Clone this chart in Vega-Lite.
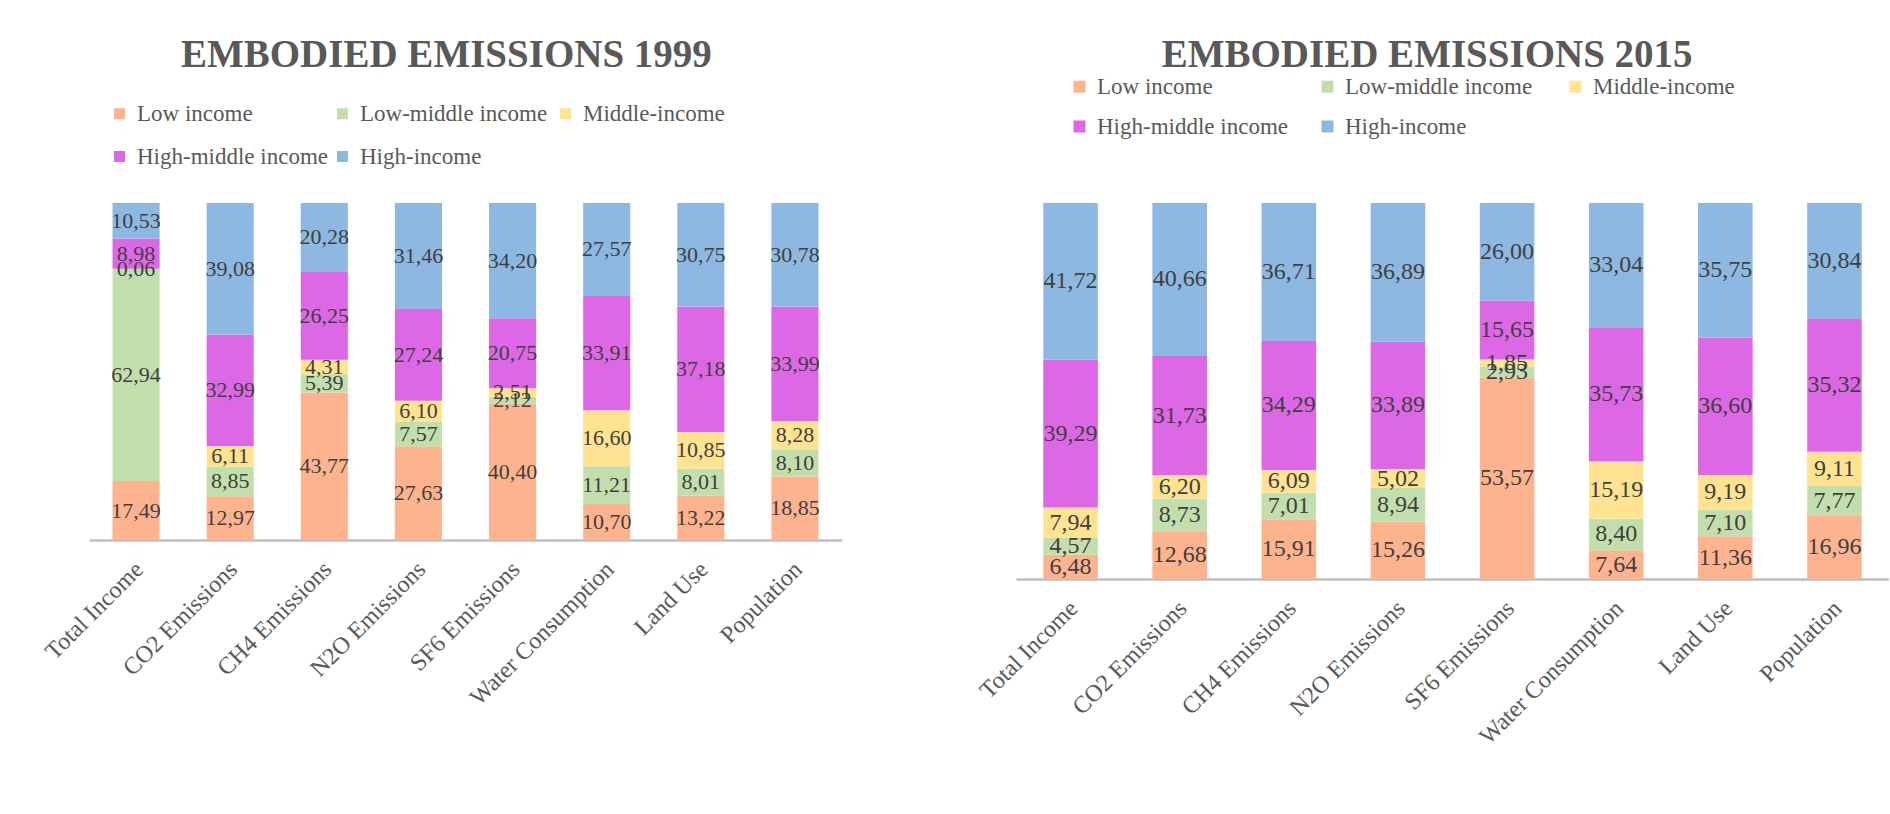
{
  "$schema": "https://vega.github.io/schema/vega-lite/v6.json",
  "padding": {"left": 40, "top": 36, "right": 0, "bottom": 0},
  "background": "white",
  "datasets": {
    "y1999": [
      {"category": "Total Income", "group": "Low income", "tier": 1, "share": 17.49},
      {"category": "Total Income", "group": "Low-middle income", "tier": 2, "share": 62.94},
      {"category": "Total Income", "group": "Middle-income", "tier": 3, "share": 0.06},
      {"category": "Total Income", "group": "High-middle income", "tier": 4, "share": 8.98},
      {"category": "Total Income", "group": "High-income", "tier": 5, "share": 10.53},
      {"category": "CO2 Emissions", "group": "Low income", "tier": 1, "share": 12.97},
      {"category": "CO2 Emissions", "group": "Low-middle income", "tier": 2, "share": 8.85},
      {"category": "CO2 Emissions", "group": "Middle-income", "tier": 3, "share": 6.11},
      {"category": "CO2 Emissions", "group": "High-middle income", "tier": 4, "share": 32.99},
      {"category": "CO2 Emissions", "group": "High-income", "tier": 5, "share": 39.08},
      {"category": "CH4 Emissions", "group": "Low income", "tier": 1, "share": 43.77},
      {"category": "CH4 Emissions", "group": "Low-middle income", "tier": 2, "share": 5.39},
      {"category": "CH4 Emissions", "group": "Middle-income", "tier": 3, "share": 4.31},
      {"category": "CH4 Emissions", "group": "High-middle income", "tier": 4, "share": 26.25},
      {"category": "CH4 Emissions", "group": "High-income", "tier": 5, "share": 20.28},
      {"category": "N2O Emissions", "group": "Low income", "tier": 1, "share": 27.63},
      {"category": "N2O Emissions", "group": "Low-middle income", "tier": 2, "share": 7.57},
      {"category": "N2O Emissions", "group": "Middle-income", "tier": 3, "share": 6.10},
      {"category": "N2O Emissions", "group": "High-middle income", "tier": 4, "share": 27.24},
      {"category": "N2O Emissions", "group": "High-income", "tier": 5, "share": 31.46},
      {"category": "SF6 Emissions", "group": "Low income", "tier": 1, "share": 40.40},
      {"category": "SF6 Emissions", "group": "Low-middle income", "tier": 2, "share": 2.12},
      {"category": "SF6 Emissions", "group": "Middle-income", "tier": 3, "share": 2.51},
      {"category": "SF6 Emissions", "group": "High-middle income", "tier": 4, "share": 20.75},
      {"category": "SF6 Emissions", "group": "High-income", "tier": 5, "share": 34.20},
      {"category": "Water Consumption", "group": "Low income", "tier": 1, "share": 10.70},
      {"category": "Water Consumption", "group": "Low-middle income", "tier": 2, "share": 11.21},
      {"category": "Water Consumption", "group": "Middle-income", "tier": 3, "share": 16.60},
      {"category": "Water Consumption", "group": "High-middle income", "tier": 4, "share": 33.91},
      {"category": "Water Consumption", "group": "High-income", "tier": 5, "share": 27.57},
      {"category": "Land Use", "group": "Low income", "tier": 1, "share": 13.22},
      {"category": "Land Use", "group": "Low-middle income", "tier": 2, "share": 8.01},
      {"category": "Land Use", "group": "Middle-income", "tier": 3, "share": 10.85},
      {"category": "Land Use", "group": "High-middle income", "tier": 4, "share": 37.18},
      {"category": "Land Use", "group": "High-income", "tier": 5, "share": 30.75},
      {"category": "Population", "group": "Low income", "tier": 1, "share": 18.85},
      {"category": "Population", "group": "Low-middle income", "tier": 2, "share": 8.10},
      {"category": "Population", "group": "Middle-income", "tier": 3, "share": 8.28},
      {"category": "Population", "group": "High-middle income", "tier": 4, "share": 33.99},
      {"category": "Population", "group": "High-income", "tier": 5, "share": 30.78}
    ],
    "y2015": [
      {"category": "Total Income", "group": "Low income", "tier": 1, "share": 6.48},
      {"category": "Total Income", "group": "Low-middle income", "tier": 2, "share": 4.57},
      {"category": "Total Income", "group": "Middle-income", "tier": 3, "share": 7.94},
      {"category": "Total Income", "group": "High-middle income", "tier": 4, "share": 39.29},
      {"category": "Total Income", "group": "High-income", "tier": 5, "share": 41.72},
      {"category": "CO2 Emissions", "group": "Low income", "tier": 1, "share": 12.68},
      {"category": "CO2 Emissions", "group": "Low-middle income", "tier": 2, "share": 8.73},
      {"category": "CO2 Emissions", "group": "Middle-income", "tier": 3, "share": 6.20},
      {"category": "CO2 Emissions", "group": "High-middle income", "tier": 4, "share": 31.73},
      {"category": "CO2 Emissions", "group": "High-income", "tier": 5, "share": 40.66},
      {"category": "CH4 Emissions", "group": "Low income", "tier": 1, "share": 15.91},
      {"category": "CH4 Emissions", "group": "Low-middle income", "tier": 2, "share": 7.01},
      {"category": "CH4 Emissions", "group": "Middle-income", "tier": 3, "share": 6.09},
      {"category": "CH4 Emissions", "group": "High-middle income", "tier": 4, "share": 34.29},
      {"category": "CH4 Emissions", "group": "High-income", "tier": 5, "share": 36.71},
      {"category": "N2O Emissions", "group": "Low income", "tier": 1, "share": 15.26},
      {"category": "N2O Emissions", "group": "Low-middle income", "tier": 2, "share": 8.94},
      {"category": "N2O Emissions", "group": "Middle-income", "tier": 3, "share": 5.02},
      {"category": "N2O Emissions", "group": "High-middle income", "tier": 4, "share": 33.89},
      {"category": "N2O Emissions", "group": "High-income", "tier": 5, "share": 36.89},
      {"category": "SF6 Emissions", "group": "Low income", "tier": 1, "share": 53.57},
      {"category": "SF6 Emissions", "group": "Low-middle income", "tier": 2, "share": 2.93},
      {"category": "SF6 Emissions", "group": "Middle-income", "tier": 3, "share": 1.85},
      {"category": "SF6 Emissions", "group": "High-middle income", "tier": 4, "share": 15.65},
      {"category": "SF6 Emissions", "group": "High-income", "tier": 5, "share": 26.00},
      {"category": "Water Consumption", "group": "Low income", "tier": 1, "share": 7.64},
      {"category": "Water Consumption", "group": "Low-middle income", "tier": 2, "share": 8.40},
      {"category": "Water Consumption", "group": "Middle-income", "tier": 3, "share": 15.19},
      {"category": "Water Consumption", "group": "High-middle income", "tier": 4, "share": 35.73},
      {"category": "Water Consumption", "group": "High-income", "tier": 5, "share": 33.04},
      {"category": "Land Use", "group": "Low income", "tier": 1, "share": 11.36},
      {"category": "Land Use", "group": "Low-middle income", "tier": 2, "share": 7.10},
      {"category": "Land Use", "group": "Middle-income", "tier": 3, "share": 9.19},
      {"category": "Land Use", "group": "High-middle income", "tier": 4, "share": 36.60},
      {"category": "Land Use", "group": "High-income", "tier": 5, "share": 35.75},
      {"category": "Population", "group": "Low income", "tier": 1, "share": 16.96},
      {"category": "Population", "group": "Low-middle income", "tier": 2, "share": 7.77},
      {"category": "Population", "group": "Middle-income", "tier": 3, "share": 9.11},
      {"category": "Population", "group": "High-middle income", "tier": 4, "share": 35.32},
      {"category": "Population", "group": "High-income", "tier": 5, "share": 30.84}
    ]
  },
  "hconcat": [
    {
      "title": {"text": "EMBODIED EMISSIONS 1999", "offset": 27, "dx": 5},
      "width": 753,
      "height": 337,
      "data": {"name": "y1999"},
      "encoding": {
        "x": {
          "field": "category", "type": "nominal", "sort": null,
          "scale": {"paddingInner": 0.5, "paddingOuter": 0.25},
          "axis": {"title": null, "labelAngle": -45, "labelAlign": "right", "labelBaseline": "top",
                   "labelPadding": 17, "labelOffset": -5, "ticks": false, "tickSize": 0,
                   "domainColor": "#BFBFBF", "domainWidth": 2.5,
                   "labelFont": "Liberation Serif", "labelFontSize": 24, "labelColor": "#595959", "labelLimit": 400}
        }
      },
      "layer": [
        {
          "mark": {"type": "bar"},
          "encoding": {
            "y": {"field": "share", "type": "quantitative", "stack": "zero",
                  "scale": {"domain": [0, 100], "nice": false}, "axis": null},
            "color": {
              "field": "group", "type": "nominal",
              "scale": {"domain": ["Low income", "Low-middle income", "Middle-income", "High-middle income", "High-income"],
                        "range": ["#FDB48E", "#C3DEAD", "#FFE391", "#DD68E5", "#8DB8E1"]},
              "legend": {"title": null, "orient": "none", "legendX": 19, "legendY": -101,
                         "direction": "horizontal", "columns": 3, "gridAlign": "all",
                         "columnPadding": 3, "rowPadding": 19, "symbolType": "square", "symbolSize": 121,
                         "symbolStrokeWidth": 0, "labelFont": "Liberation Serif", "labelFontSize": 23,
                         "labelColor": "#595959", "labelOffset": 6, "labelLimit": 400, "padding": 0}
            },
            "order": {"field": "tier", "type": "quantitative", "sort": "ascending"}
          }
        },
        {
          "mark": {"type": "text", "fontSize": 22, "color": "#404040", "font": "Liberation Serif"},
          "encoding": {
            "y": {"field": "share", "type": "quantitative", "stack": "zero", "bandPosition": 0.5},
            "detail": {"field": "group", "type": "nominal"},
            "order": {"field": "tier", "type": "quantitative", "sort": "ascending"},
            "text": {"field": "share", "type": "quantitative", "format": ".2f"}
          }
        }
      ]
    },
    {
      "title": {"text": "EMBODIED EMISSIONS 2015", "offset": 0, "dx": -5},
      "width": 873,
      "height": 376,
      "data": {"name": "y2015"},
      "encoding": {
        "x": {
          "field": "category", "type": "nominal", "sort": null,
          "scale": {"paddingInner": 0.5, "paddingOuter": 0.25},
          "axis": {"title": null, "labelAngle": -45, "labelAlign": "right", "labelBaseline": "top",
                   "labelPadding": 17, "labelOffset": -5, "ticks": false, "tickSize": 0,
                   "domainColor": "#BFBFBF", "domainWidth": 2.5,
                   "labelFont": "Liberation Serif", "labelFontSize": 24, "labelColor": "#595959", "labelLimit": 400}
        }
      },
      "layer": [
        {
          "mark": {"type": "bar"},
          "encoding": {
            "y": {"field": "share", "type": "quantitative", "stack": "zero",
                  "scale": {"domain": [0, 100], "nice": false}, "axis": null},
            "color": {
              "field": "group", "type": "nominal",
              "scale": {"domain": ["Low income", "Low-middle income", "Middle-income", "High-middle income", "High-income"],
                        "range": ["#FDB48E", "#C3DEAD", "#FFE391", "#DD68E5", "#8DB8E1"]},
              "legend": {"title": null, "orient": "none", "legendX": 52, "legendY": -128,
                         "direction": "horizontal", "columns": 3, "gridAlign": "all",
                         "columnPadding": 28, "rowPadding": 16, "symbolType": "square", "symbolSize": 144,
                         "symbolStrokeWidth": 0, "labelFont": "Liberation Serif", "labelFontSize": 23,
                         "labelColor": "#595959", "labelOffset": 6, "labelLimit": 400, "padding": 0}
            },
            "order": {"field": "tier", "type": "quantitative", "sort": "ascending"}
          }
        },
        {
          "mark": {"type": "text", "fontSize": 24, "color": "#404040", "font": "Liberation Serif"},
          "encoding": {
            "y": {"field": "share", "type": "quantitative", "stack": "zero", "bandPosition": 0.5},
            "detail": {"field": "group", "type": "nominal"},
            "order": {"field": "tier", "type": "quantitative", "sort": "ascending"},
            "text": {"field": "share", "type": "quantitative", "format": ".2f"}
          }
        }
      ]
    }
  ],
  "spacing": 133,
  "resolve": {
    "scale": {"color": "independent", "x": "independent", "y": "independent"},
    "legend": {"color": "independent"}
  },
  "config": {
    "font": "Liberation Serif",
    "view": {"stroke": null},
    "locale": {"number": {"decimal": ",", "thousands": ".", "grouping": [3], "currency": ["", " €"]}},
    "title": {"font": "Liberation Serif", "fontSize": 39, "fontWeight": "bold", "color": "#595959",
              "anchor": "middle", "frame": "bounds"}
  }
}
